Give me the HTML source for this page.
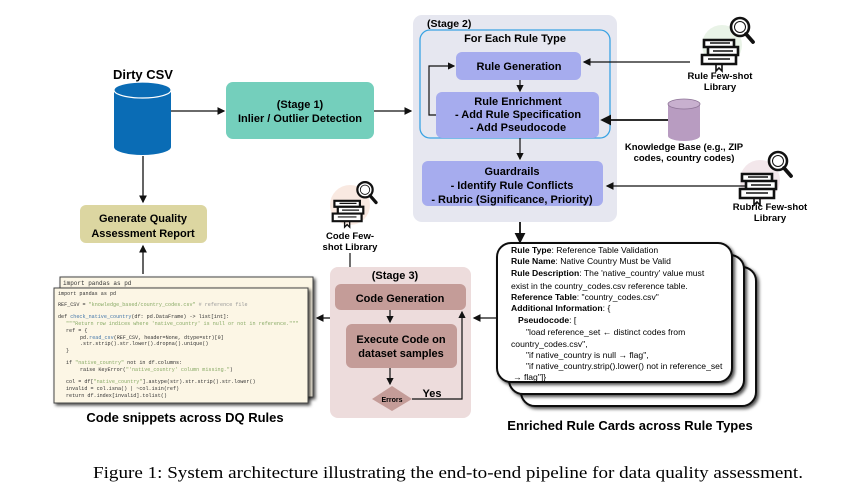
<!DOCTYPE html>
<html><head><meta charset="utf-8"><style>
body{margin:0;background:#fff;}
svg{display:block;font-family:"Liberation Sans",Arial,sans-serif;}
.b{font-weight:bold;}
</style></head><body>
<svg width="861" height="493" viewBox="0 0 861 493" xmlns="http://www.w3.org/2000/svg">
<defs>
<marker id="ar" markerWidth="6" markerHeight="6" refX="5" refY="3" orient="auto"><path d="M0,0 L6,3 L0,6 z" fill="#111"/></marker>
<g id="books">
<path d="M4,28 h30 v7 h-30 z M8,35 h30 v8 h-30 z M2,43 h34 v9 h-34 z" fill="#fff" stroke="#111" stroke-width="2.6"/>
<path d="M10,31 h20 M13,39 h20 M8,47 h22" stroke="#111" stroke-width="1.4"/>
<path d="M16,52 v7 l3,-3 l3,3 v-7" fill="none" stroke="#111" stroke-width="1.6"/>
<circle cx="40" cy="15" r="9" fill="#fff" stroke="#111" stroke-width="2.6"/>
<circle cx="40" cy="15" r="5.5" fill="none" stroke="#111" stroke-width="1"/>
<path d="M46,22 L53,30" stroke="#111" stroke-width="3.8" stroke-linecap="round"/>
</g>
<clipPath id="cp"><rect x="54" y="288" width="254" height="115"/></clipPath>
<filter id="sh"><feDropShadow dx="2" dy="2" stdDeviation="1.5" flood-color="#000" flood-opacity="0.7"/></filter>
</defs>

<!-- Dirty CSV -->
<text x="143" y="79" text-anchor="middle" class="b" font-size="13">Dirty CSV</text>
<path d="M114,90 v57 a28.5,8 0 0 0 57,0 v-57 z" fill="#0a6cb5"/>
<ellipse cx="142.5" cy="90" rx="28.5" ry="8" fill="#0a6cb5" stroke="#fff" stroke-width="1.2"/>
<line x1="171" y1="111" x2="224" y2="111" stroke="#111" stroke-width="1.3" marker-end="url(#ar)"/>
<rect x="226" y="82" width="148" height="57" rx="7" fill="#74cfbc"/>
<text x="300" y="108" text-anchor="middle" class="b" font-size="11">(Stage 1)</text>
<text x="300" y="122" text-anchor="middle" class="b" font-size="11">Inlier / Outlier Detection</text>
<line x1="374" y1="111" x2="411" y2="111" stroke="#111" stroke-width="1.3" marker-end="url(#ar)"/>
<line x1="143" y1="156" x2="143" y2="202" stroke="#111" stroke-width="1.3" marker-end="url(#ar)"/>
<rect x="80" y="205" width="127" height="38" rx="6" fill="#dcd6a1"/>
<text x="143" y="222" text-anchor="middle" class="b" font-size="11">Generate Quality</text>
<text x="143" y="237" text-anchor="middle" class="b" font-size="11">Assessment Report</text>
<line x1="143" y1="274" x2="143" y2="246" stroke="#111" stroke-width="1.3" marker-end="url(#ar)"/>

<!-- Stage 2 -->
<rect x="413" y="15" width="204" height="207" rx="9" fill="#e6e7f0"/>
<text x="427" y="27" class="b" font-size="10.5">(Stage 2)</text>
<rect x="420" y="30" width="190" height="108" rx="10" fill="none" stroke="#3aa3e3" stroke-width="1.3"/>
<text x="515" y="42" text-anchor="middle" class="b" font-size="11">For Each Rule Type</text>
<rect x="456" y="52" width="125" height="28" rx="6" fill="#a6acee"/>
<text x="519" y="70" text-anchor="middle" class="b" font-size="11">Rule Generation</text>
<line x1="520" y1="80" x2="520" y2="91" stroke="#111" stroke-width="1.2" marker-end="url(#ar)"/>
<rect x="436" y="92" width="163" height="46" rx="6" fill="#a6acee"/>
<text x="518" y="105" text-anchor="middle" class="b" font-size="11">Rule Enrichment</text>
<text x="518" y="118" text-anchor="middle" class="b" font-size="11">- Add Rule Specification</text>
<text x="518" y="131" text-anchor="middle" class="b" font-size="11">- Add Pseudocode</text>
<polyline points="436,115 429,115 429,66 454,66" fill="none" stroke="#111" stroke-width="1.2" marker-end="url(#ar)"/>
<line x1="520" y1="138" x2="520" y2="159" stroke="#111" stroke-width="1.2" marker-end="url(#ar)"/>
<rect x="422" y="161" width="181" height="45" rx="6" fill="#a6acee"/>
<text x="512" y="175" text-anchor="middle" class="b" font-size="11">Guardrails</text>
<text x="512" y="189" text-anchor="middle" class="b" font-size="11">- Identify Rule Conflicts</text>
<text x="512" y="203" text-anchor="middle" class="b" font-size="11">- Rubric (Significance, Priority)</text>
<line x1="520" y1="222" x2="520" y2="242" stroke="#111" stroke-width="1.8" marker-end="url(#ar)"/>

<!-- right side libs -->
<circle cx="722" cy="45" r="20" fill="#dfeedd" opacity="0.7"/>
<use href="#books" x="700" y="12"/>
<text x="720" y="79" text-anchor="middle" class="b" font-size="9.5">Rule Few-shot</text>
<text x="720" y="90" text-anchor="middle" class="b" font-size="9.5">Library</text>
<line x1="690" y1="62" x2="584" y2="62" stroke="#111" stroke-width="1.3" marker-end="url(#ar)"/>
<path d="M668,104 v32 a16,5 0 0 0 32,0 v-32 z" fill="#b89cc1"/>
<ellipse cx="684" cy="104" rx="16" ry="5" fill="#c8b0cf" stroke="#8d7396" stroke-width="0.8"/>
<text x="684" y="150" text-anchor="middle" class="b" font-size="9.5">Knowledge Base (e.g., ZIP</text>
<text x="684" y="161" text-anchor="middle" class="b" font-size="9.5">codes, country codes)</text>
<line x1="668" y1="120" x2="602" y2="120" stroke="#111" stroke-width="1.8" marker-end="url(#ar)"/>
<circle cx="760" cy="180" r="20" fill="#eedde3" opacity="0.7"/>
<use href="#books" x="738" y="146"/>
<text x="770" y="210" text-anchor="middle" class="b" font-size="9.5">Rubric Few-shot</text>
<text x="770" y="221" text-anchor="middle" class="b" font-size="9.5">Library</text>
<line x1="745" y1="186" x2="607" y2="186" stroke="#111" stroke-width="1.3" marker-end="url(#ar)"/>

<!-- cards -->
<rect x="521" y="267" width="235" height="139" rx="14" fill="#fff" stroke="#111" stroke-width="2" filter="url(#sh)"/>
<rect x="509" y="255" width="235" height="139" rx="14" fill="#fff" stroke="#111" stroke-width="2" filter="url(#sh)"/>
<rect x="497" y="243" width="235" height="139" rx="14" fill="#fff" stroke="#111" stroke-width="2" filter="url(#sh)"/>
<g font-size="8.6">
<text x="511" y="253"><tspan class="b">Rule Type</tspan>: Reference Table Validation</text>
<text x="511" y="264"><tspan class="b">Rule Name</tspan>: Native Country Must be Valid</text>
<text x="511" y="276"><tspan class="b">Rule Description</tspan>: The 'native_country' value must</text>
<text x="511" y="289">exist in the country_codes.csv reference table.</text>
<text x="511" y="300"><tspan class="b">Reference Table</tspan>: "country_codes.csv"</text>
<text x="511" y="311"><tspan class="b">Additional Information</tspan>: {</text>
<text x="518" y="323"><tspan class="b">Pseudocode</tspan>: [</text>
<text x="526" y="335">"load reference_set ← distinct codes from</text>
<text x="511" y="347">country_codes.csv",</text>
<text x="526" y="358">"if native_country is null → flag",</text>
<text x="526" y="369">"if native_country.strip().lower() not in reference_set</text>
<text x="513" y="380">→ flag"]}</text>
</g>
<text x="630" y="430" text-anchor="middle" class="b" font-size="13">Enriched Rule Cards across Rule Types</text>
<line x1="497" y1="318" x2="474" y2="318" stroke="#111" stroke-width="1.3" marker-end="url(#ar)"/>

<!-- Stage 3 -->
<circle cx="350" cy="205" r="20" fill="#f6e0d4" opacity="0.7"/>
<g transform="translate(331,177) scale(0.85)"><use href="#books"/></g>
<text x="350" y="239" text-anchor="middle" class="b" font-size="9.5">Code Few-</text>
<text x="350" y="250" text-anchor="middle" class="b" font-size="9.5">shot Library</text>
<line x1="350" y1="253" x2="350" y2="282" stroke="#111" stroke-width="1.2" marker-end="url(#ar)"/>
<rect x="330" y="267" width="141" height="151" rx="8" fill="#eddcdc"/>
<text x="395" y="279" text-anchor="middle" class="b" font-size="11">(Stage 3)</text>
<rect x="335" y="284" width="131" height="26" rx="6" fill="#c49c98"/>
<text x="400" y="302" text-anchor="middle" class="b" font-size="11">Code Generation</text>
<line x1="390" y1="310" x2="390" y2="322" stroke="#111" stroke-width="1.2" marker-end="url(#ar)"/>
<rect x="346" y="324" width="111" height="44" rx="6" fill="#c49c98"/>
<text x="401" y="343" text-anchor="middle" class="b" font-size="11">Execute Code on</text>
<text x="401" y="357" text-anchor="middle" class="b" font-size="11">dataset samples</text>
<line x1="390" y1="368" x2="390" y2="384" stroke="#111" stroke-width="1.2" marker-end="url(#ar)"/>
<path d="M392,386 L412,399 L392,411 L372,399 z" fill="#c49c98"/>
<text x="392" y="402" text-anchor="middle" class="b" font-size="7">Errors</text>
<polyline points="412,399 462,399 462,312" fill="none" stroke="#111" stroke-width="1.2" marker-end="url(#ar)"/>
<text x="432" y="397" text-anchor="middle" class="b" font-size="11">Yes</text>
<line x1="330" y1="318" x2="317" y2="318" stroke="#111" stroke-width="1.3" marker-end="url(#ar)"/>

<!-- code panes -->
<rect x="60" y="277" width="253" height="120" fill="#fcf6e5" stroke="#444" stroke-width="1" filter="url(#sh)"/>
<text x="63" y="285" font-family="Liberation Mono,monospace" font-size="6" fill="#333">import pandas as pd</text>
<rect x="54" y="288" width="254" height="115" fill="#fcf6e5" stroke="#444" stroke-width="1" filter="url(#sh)"/>
<g font-family="Liberation Mono,monospace" font-size="5.1" fill="#333" clip-path="url(#cp)">
<text x="58" y="295">import pandas as pd</text>
<text x="58" y="306">REF_CSV = <tspan fill="#8a6">"knowledge_based/country_codes.csv"</tspan>          <tspan fill="#999"># reference file</tspan></text>
<text x="58" y="318">def <tspan fill="#47a">check_native_country</tspan>(df: pd.DataFrame) -&gt; list[int]:</text>
<text x="66" y="325" fill="#8a6">"""Return row indices where 'native_country' is null or not in reference."""</text>
<text x="66" y="332">ref = {</text>
<text x="80" y="339">pd.<tspan fill="#47a">read_csv</tspan>(REF_CSV, header=None, dtype=str)[0]</text>
<text x="80" y="345">.str.strip().str.lower().dropna().unique()</text>
<text x="66" y="352">}</text>
<text x="66" y="364">if <tspan fill="#8a6">"native_country"</tspan> not in df.columns:</text>
<text x="80" y="371">raise KeyError(<tspan fill="#8a6">"'native_country' column missing."</tspan>)</text>
<text x="66" y="383">col = df[<tspan fill="#8a6">"native_country"</tspan>].astype(str).str.strip().str.lower()</text>
<text x="66" y="390">invalid = col.isna() | ~col.isin(ref)</text>
<text x="66" y="397">return df.index[invalid].tolist()</text>
</g>
<text x="185" y="422" text-anchor="middle" class="b" font-size="13">Code snippets across DQ Rules</text>

<text x="93" y="478" font-family="Liberation Serif,serif" font-size="17" textLength="710" lengthAdjust="spacingAndGlyphs">Figure 1: System architecture illustrating the end-to-end pipeline for data quality assessment.</text>
</svg>
</body></html>
